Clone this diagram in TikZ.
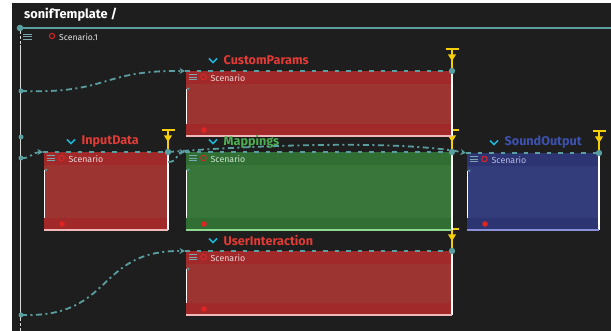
\documentclass[tikz,border=0pt]{standalone}
\usepackage{fontspec}
\setmainfont{Fira Sans}
\usetikzlibrary{arrows.meta}

\definecolor{bg}{HTML}{1E1E1E}
\definecolor{link}{HTML}{5A9EA0}
\definecolor{menuc}{HTML}{7AA6AE}
\definecolor{chevc}{HTML}{1AB4D4}
\definecolor{trig}{HTML}{F5D000}
\definecolor{ring}{HTML}{E02424}
% red palette
\definecolor{rhead}{HTML}{A2292A}
\definecolor{rbody}{HTML}{9C3532}
\definecolor{redge}{HTML}{F0B8B8}
\definecolor{rtitle}{HTML}{E23B36}
\definecolor{rtext}{HTML}{EADADA}
% green palette
\definecolor{ghead}{HTML}{306E34}
\definecolor{gbody}{HTML}{38763A}
\definecolor{gedge}{HTML}{8FD88F}
\definecolor{gtitle}{HTML}{4CAF50}
\definecolor{gtext}{HTML}{CDE8CD}
% blue palette
\definecolor{bhead}{HTML}{2C3472}
\definecolor{bbody}{HTML}{333D7C}
\definecolor{bedge}{HTML}{8A90D8}
\definecolor{btitle}{HTML}{3D52B0}
\definecolor{btext}{HTML}{B8BCE8}

\pgfdeclarelayer{back}
\pgfsetlayers{back,main}

\tikzset{
  box/.style={inner sep=0pt, outer sep=0pt, anchor=north west, draw=none},
  boxtitle/.style={font=\fontsize{12.6}{14}\selectfont\bfseries, inner sep=0pt, anchor=west},
  scen/.style={font=\fontsize{8.8}{10}\selectfont, inner sep=0pt, anchor=west},
  flow/.style={link, line width=1.8pt, dash pattern=on 6pt off 3.5pt on 2pt off 3.5pt,
               -{Stealth[length=5.5pt,width=6pt]}},
  topline/.style={link, line width=1.8pt, dash pattern=on 4.5pt off 7pt},
}

% #1 name, #2 left, #3 top, #4 right, #5 bottom, #6 palette, #7 title
\newcommand\ScBox[7]{%
  \node[box, fill=#6body, minimum width={(#4-#2)*1pt}, minimum height={(#5-#3)*1pt}] (#1) at (#2,#3) {};
  % trigger mark above the right corner, kept under the boxes
  \begin{pgfonlayer}{back}
    \draw[trig, line width=2.6pt] ([xshift=-6.5pt,yshift=22pt]#1.north east) -- ([xshift=6.5pt,yshift=22pt]#1.north east);
    \draw[trig, line width=1.4pt] ([yshift=22pt]#1.north east) -- ([yshift=2pt]#1.north east);
    \fill[trig] ([xshift=-4pt,yshift=16.5pt]#1.north east) -- ([xshift=4pt,yshift=16.5pt]#1.north east) -- ([yshift=10pt]#1.north east) -- cycle;
  \end{pgfonlayer}
  % header and footer bands
  \fill[#6head] (#1.north west) rectangle ([yshift=-13pt]#1.north east);
  \fill[#6head] ([yshift=12pt]#1.south west) rectangle (#1.south east);
  % edges
  \draw[white, line width=1.2pt] (#1.north east) -- (#1.south east);
  \draw[white, line width=0.9pt] ([yshift=-18pt]#1.north west) -- ([yshift=12pt]#1.south west);
  \draw[#6edge, line width=1.2pt] (#1.south west) -- (#1.south east);
  % header contents
  \foreach \k in {0,1,2}
    \draw[menuc, line width=0.8pt] ([xshift=2.5pt,yshift=-3.5pt-2.6pt*\k]#1.north west) -- ++(8pt,0);
  \draw[ring, line width=1pt] ([xshift=17.5pt,yshift=-6pt]#1.north west) circle (2.7pt);
  \node[scen, text=#6text] (#1-s) at ([xshift=24.5pt,yshift=-7.5pt]#1.north west) {Scenario};
  \fill[ring] ([xshift=18pt,yshift=6pt]#1.south west) circle (2.8pt);
  % dashed top rail with its end port
  \draw[topline] ([xshift=-1pt]#1.north west) -- (#1.north east);
  \fill[link] (#1.north east) circle (3.2pt);
  \fill[link] ([xshift=1pt,yshift=-17pt]#1.north west) -- ++(2.5pt,0) -- ++(-1.25pt,-2.5pt) -- cycle;
  % title with collapse chevron
  \draw[chevc, line width=1.7pt] ([xshift=23pt,yshift=12.5pt]#1.north west) -- ++(4pt,-4pt) -- ++(4pt,4pt);
  \node[boxtitle, text=#6title] (#1-t) at ([xshift=37.5pt,yshift=10.5pt]#1.north west) {#7};
}

\begin{document}
\begin{tikzpicture}[x=1pt, y=-1pt]
  \useasboundingbox (0,0) rectangle (611,331);
  \begin{pgfonlayer}{back}
    \fill[white] (0,0) rectangle (611,331);
    \fill[bg] (12,3) rectangle (611,331);
  \end{pgfonlayer}

  % scenario header
  \node[font=\fontsize{12.8}{14}\selectfont\bfseries, text=white, inner sep=0pt, anchor=west] (head) at (24,15) {sonifTemplate /};
  \draw[link, line width=2.6pt] (20,28) -- (611,28);
  \fill[link] (20,28) circle (3.3pt);
  \foreach \k in {0,1,2}
    \draw[menuc, line width=0.8pt] (23,34.5+2.4*\k) -- ++(8.5,0);
  \draw[ring, line width=1pt] (52,36) circle (2.6pt);
  \node[font=\fontsize{8.6}{10}\selectfont, text=white!90!black, inner sep=0pt, anchor=west] (scen1) at (59,37.5) {Scenario.1};

  % left time line
  \draw[white!85!black, line width=0.8pt, dash pattern=on 3pt off 2pt] (20,31) -- (20,45);
  \draw[white!85!black, line width=0.8pt] (20,45) -- (20,318);
  \draw[white!85!black, line width=0.8pt, dash pattern=on 3pt off 2pt] (20,318) -- (20,331);

  % boxes
  \ScBox{cp}{186}{71}{452}{136}{r}{CustomParams}
  \ScBox{id}{44}{152}{168}{230}{r}{InputData}
  \ScBox{mp}{186}{152}{452}{230}{g}{Mappings}
  \ScBox{so}{467}{153}{599}{230}{b}{SoundOutput}
  \ScBox{ui}{186}{251}{452}{315}{r}{UserInteraction}

  % ports on the time line
  \coordinate (pa) at (21,91);
  \coordinate (pb) at (21,137);
  \coordinate (pc) at (21,158);
  \coordinate (pd) at (21,315);
  \foreach \p in {pa,pb,pc,pd} \fill[link] (\p) circle (2.5pt);

  % links
  \draw[flow] (pa) .. controls (110,94) and (100,70) .. ([xshift=-1pt]cp.north west);
  \draw[flow] (pd) .. controls (115,318) and (95,250) .. ([xshift=-1pt]ui.north west);
  \draw[flow] (pc) .. controls (30,159) and (33,152) .. ([xshift=-1pt]id.north west);
  \draw[flow] ([yshift=-10pt]id.north east) .. controls (179,162) and (176,152) .. ([xshift=-1pt]mp.north west);
  \draw[flow] (id.north east) .. controls (260,145) and (400,140) .. ([xshift=-1pt]so.north west);
\end{tikzpicture}
\end{document}
